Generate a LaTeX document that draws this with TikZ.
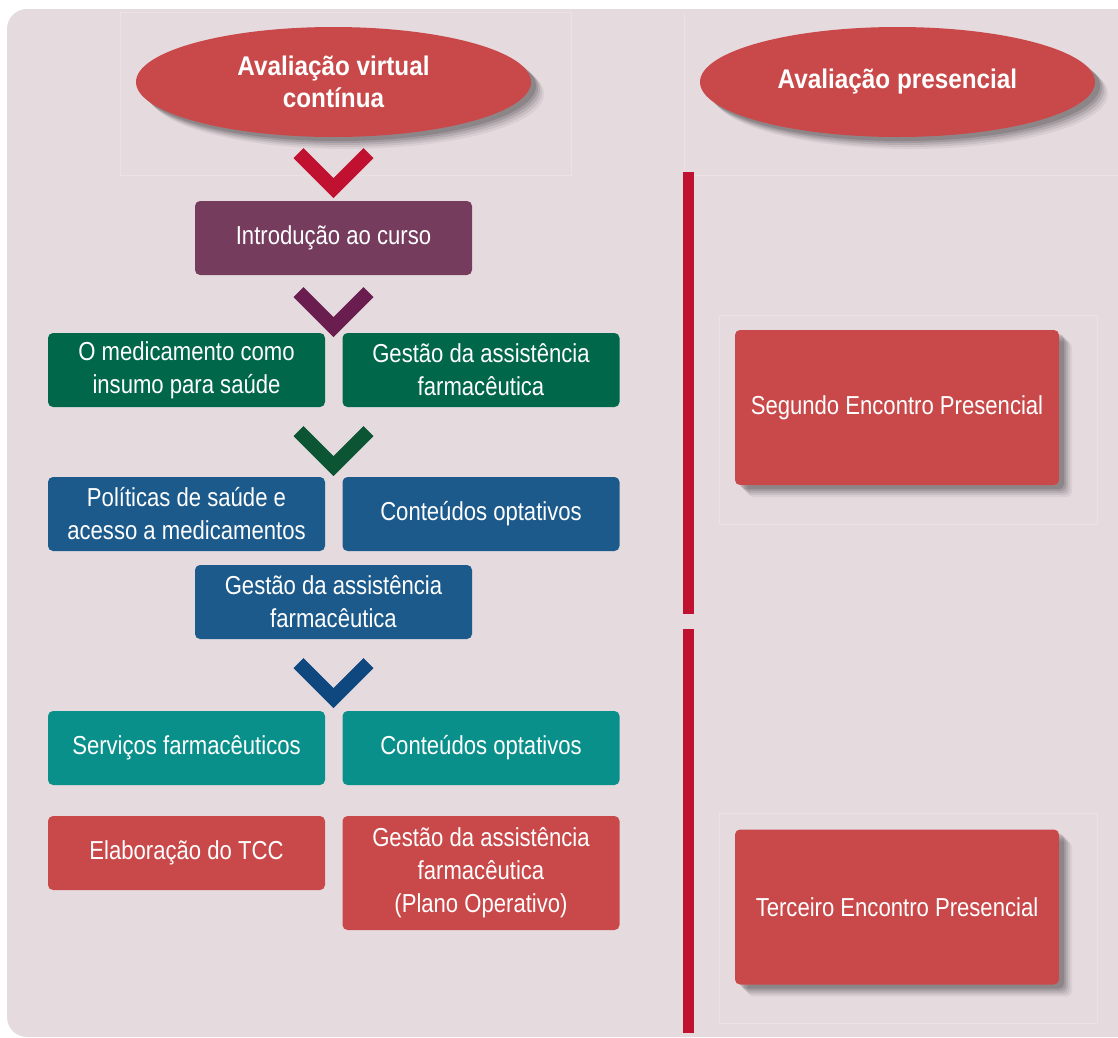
\documentclass[tikz,border=0pt]{standalone}
\usepackage{fontspec}
\setmainfont[FakeStretch=0.85]{Liberation Sans}
\newfontfamily\titlefont[FakeStretch=0.9]{Liberation Sans}
\usetikzlibrary{shapes.geometric,shadows}
\definecolor{bgpanel}{HTML}{E5DBDF}
\definecolor{faintline}{HTML}{EAE2E5}
\definecolor{redbar}{HTML}{C01230}
\definecolor{boxred}{HTML}{C9494A}
\definecolor{boxpurple}{HTML}{763C5E}
\definecolor{boxgreen}{HTML}{00674A}
\definecolor{boxblue}{HTML}{1D5A8C}
\definecolor{boxteal}{HTML}{0A908A}
\definecolor{chevred}{HTML}{C01230}
\definecolor{chevpurple}{HTML}{6A1E50}
\definecolor{chevgreen}{HTML}{0B5535}
\definecolor{chevblue}{HTML}{0F477F}
\newcommand\mychev[3]{\fill[#3] ({#1-40},{#2+10}) -- ({#1-30},{#2}) -- ({#1},{#2+30}) -- ({#1+30},{#2}) -- ({#1+40},{#2+10}) -- ({#1},{#2+50}) -- cycle;}
\tikzset{
  softshadow/.style={
    drop shadow={shadow xshift=13pt,shadow yshift=-12pt,opacity=0.05,fill=black},
    drop shadow={shadow xshift=11pt,shadow yshift=-10pt,opacity=0.07,fill=black},
    drop shadow={shadow xshift=9pt,shadow yshift=-8pt,opacity=0.09,fill=black},
    drop shadow={shadow xshift=7pt,shadow yshift=-6pt,opacity=0.11,fill=black},
    drop shadow={shadow xshift=5pt,shadow yshift=-4pt,opacity=0.13,fill=black}},
  box/.style={rounded corners=5pt, text=white, align=center,
    font=\fontsize{26}{33}\selectfont, minimum width=277pt, minimum height=74pt, inner sep=0pt},
  bigbox/.style={box, fill=boxred, minimum width=324pt, minimum height=155pt, softshadow},
  oval/.style={ellipse, fill=boxred, text=white, align=center, minimum width=395pt,
    minimum height=110pt, inner sep=0pt, font=\titlefont\bfseries\fontsize{27}{32}\selectfont, softshadow},
  faint/.style={draw=faintline, line width=0.8pt},
  bar/.style={fill=redbar}
}
\begin{document}
\begin{tikzpicture}[x=1pt,y=-1pt]
\useasboundingbox (0,0) rectangle (1118,1037);
\fill[white] (0,0) rectangle (1118,1037);
\fill[bgpanel, rounded corners=20pt] (7,9) rectangle (1140,1037);
% faint frames
\draw[faint] (120,12) rectangle (571,175);
\draw[faint] (684,12) -- (684,175) -- (1118,175);
\draw[faint] (719,315) rectangle (1097,524);
\draw[faint] (719,813) rectangle (1097,1023);
% headers
\node[oval] (virt) at (333.5,82) {Avaliação virtual\\contínua};
\node[oval] (pres) at (897.5,82) {Avaliação presencial};
% vertical bars
\fill[bar] (683,172) rectangle (694,614);
\fill[bar] (683,629) rectangle (694,1033);
% chevrons
\mychev{333.5}{148}{chevred}
\mychev{333.5}{287}{chevpurple}
\mychev{333.5}{426}{chevgreen}
\mychev{333.5}{658}{chevblue}
% left boxes
\node[box, fill=boxpurple] (intro) at (333.5,238) {Introdução ao curso};
\node[box, fill=boxgreen] (med) at (186.5,370) {O medicamento como\\insumo para saúde};
\node[box, fill=boxgreen] (gest1) at (481,370) {Gestão da assistência\\farmacêutica};
\node[box, fill=boxblue] (pol) at (186.5,514) {Políticas de saúde e\\acesso a medicamentos};
\node[box, fill=boxblue] (opt1) at (481,514) {Conteúdos optativos};
\node[box, fill=boxblue] (gest2) at (333.5,602) {Gestão da assistência\\farmacêutica};
\node[box, fill=boxteal] (serv) at (186.5,748) {Serviços farmacêuticos};
\node[box, fill=boxteal] (opt2) at (481,748) {Conteúdos optativos};
\node[box, fill=boxred] (tcc) at (186.5,853) {Elaboração do TCC};
\node[box, fill=boxred, minimum height=114pt] (gest3) at (481,873) {Gestão da assistência\\farmacêutica\\(Plano Operativo)};
% right boxes
\node[bigbox] (seg) at (897,407.5) {Segundo Encontro Presencial};
\node[bigbox] (ter) at (897,907) {Terceiro Encontro Presencial};
\end{tikzpicture}
\end{document}
